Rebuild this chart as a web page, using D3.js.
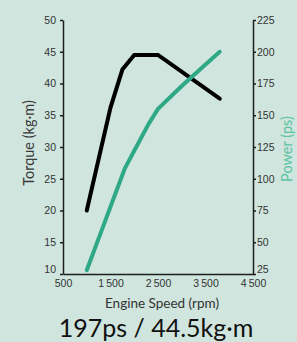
<!DOCTYPE html>
<html>
<head>
<meta charset="utf-8">
<script src="https://cdn.jsdelivr.net/npm/d3@7"></script>
<style>
  html, body { margin: 0; padding: 0; background: #cfe5dd; }
  svg { display: block; font-family: Lato, "Open Sans", sans-serif; }
</style>
</head>
<body>
<div id="chart"></div>
<script>
// engine curve
const torqueRpm = [1000, 1500, 1750, 2000, 2500, 3800];
const torqueVal = [20, 36.2, 42.2, 44.5, 44.5, 37.6];
const powerRpm = [1000, 1300, 1600, 1800, 2000, 2300, 2500, 3000, 3500, 3800];
const powerVal = [28, 58, 88, 108, 122, 143, 155, 173, 190, 200];

const rpmTicks = [500, 1500, 2500, 3500, 4500];
const torqueTicks = [10, 15, 20, 25, 30, 35, 40, 45, 50];
const powerTicks = [25, 50, 75, 100, 125, 150, 175, 200, 225];

const W = 297, H = 342;
const margin = { top: 20, right: 44, bottom: 68, left: 63 };
const innerW = W - margin.left - margin.right;
const innerH = H - margin.top - margin.bottom;

const svg = d3.select('#chart').append('svg')
    .attr('width', W)
    .attr('height', H);

svg.append('rect').attr('width', W).attr('height', H).attr('fill', '#cfe5dd');

const g = svg.append('g')
    .attr('transform', `translate(${margin.left},${margin.top})`);

const x = d3.scaleLinear().domain([500, 4500]).range([0, innerW]);
const yT = d3.scaleLinear().domain([10, 50]).range([innerH, 0]);
const yP = d3.scaleLinear().domain([25, 225]).range([innerH, 0]);

const tickColor = '#333';
const axisColor = '#1e1e1e';

// x axis - no tick marks, thin-space thousands
const xAxis = g.append('g')
    .attr('transform', `translate(0,${innerH})`)
    .call(d3.axisBottom(x).tickValues(rpmTicks).tickSize(0).tickPadding(6)
        .tickFormat(d => d >= 1000 ? d3.format(',')(d).replace(',', '\u2009') : d));
xAxis.select('.domain').attr('stroke', axisColor).attr('stroke-width', 1.5);
xAxis.selectAll('text').style('font-size', '10.5px').style('fill', tickColor);

const yLeft = g.append('g')
    .call(d3.axisLeft(yT).tickValues(torqueTicks).tickSize(3).tickSizeOuter(0).tickPadding(4));
yLeft.select('.domain').attr('stroke', axisColor).attr('stroke-width', 1.5);
yLeft.selectAll('.tick line').attr('stroke', axisColor).attr('stroke-width', 1.5);
yLeft.selectAll('text').style('font-size', '10.5px').style('fill', tickColor);
yLeft.selectAll('.tick').filter(d => d === 10).select('text').attr('dy', '-0.1em');

const yRight = g.append('g')
    .attr('transform', `translate(${innerW},0)`)
    .call(d3.axisRight(yP).tickValues(powerTicks).tickSize(3).tickSizeOuter(0).tickPadding(1));
yRight.select('.domain').attr('stroke', axisColor).attr('stroke-width', 1.5);
yRight.selectAll('.tick line').attr('stroke', axisColor).attr('stroke-width', 1.5);
yRight.selectAll('text').style('font-size', '10.5px').style('fill', tickColor);
yRight.selectAll('.tick').filter(d => d === 25).select('text').attr('dy', '-0.1em');

// curves
const torqueData = torqueRpm.map((r, i) => [r, torqueVal[i]]);
const powerData = powerRpm.map((r, i) => [r, powerVal[i]]);

g.append('path')
    .datum(torqueData)
    .attr('fill', 'none')
    .attr('stroke', '#000')
    .attr('stroke-width', 4)
    .attr('stroke-linecap', 'round')
    .attr('d', d3.line().x(d => x(d[0])).y(d => yT(d[1])));

g.append('path')
    .datum(powerData)
    .attr('fill', 'none')
    .attr('stroke', '#2fa886')
    .attr('stroke-width', 4)
    .attr('stroke-linecap', 'round')
    .attr('stroke-linejoin', 'round')
    .attr('d', d3.line().x(d => x(d[0])).y(d => yP(d[1])));

// axis titles
svg.append('text')
    .attr('transform', `translate(34,143) rotate(-90)`)
    .attr('text-anchor', 'middle')
    .style('font-size', '14.5px')
    .style('fill', '#3a3a3a')
    .text('Torque (kg\u00b7m)');

svg.append('text')
    .attr('transform', `translate(292,149) rotate(-90)`)
    .attr('text-anchor', 'middle')
    .style('font-size', '14.5px')
    .style('fill', '#5cc4a4')
    .text('Power (ps)');

svg.append('text')
    .attr('x', 162)
    .attr('y', 308)
    .attr('text-anchor', 'middle')
    .style('font-size', '13.5px')
    .style('fill', '#333')
    .text('Engine Speed (rpm)');

svg.append('text')
    .attr('x', 156)
    .attr('y', 337)
    .attr('text-anchor', 'middle')
    .style('font-size', '25px')
    .style('fill', '#111')
    .text('197ps / 44.5kg\u00b7m');
</script>
</body>
</html>
